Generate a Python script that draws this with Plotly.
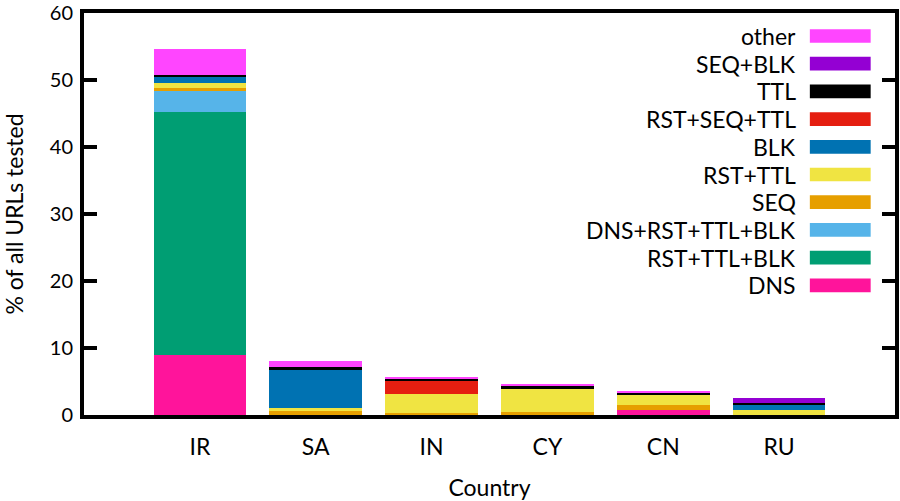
import plotly.graph_objects as go

# 国別の内訳 (% of all URLs tested)
countries = ['IR', 'SA', 'IN', 'CY', 'CN', 'RU']

# stack order bottom -> top
series_names = ['DNS', 'RST+TTL+BLK', 'DNS+RST+TTL+BLK', 'SEQ', 'RST+TTL',
                'BLK', 'RST+SEQ+TTL', 'TTL', 'SEQ+BLK', 'other']
series_colors = ['#ff149b', '#009e73', '#56b4e9', '#e69f00', '#f0e442',
                 '#0072b2', '#e51e10', '#000000', '#9400d3', '#ff45ff']

dns = [8.95, 0, 0, 0, 0.82, 0]
rst_ttl_blk = [36.3, 0, 0, 0, 0, 0]
dns_rst_ttl_blk = [3.1, 0, 0, 0, 0, 0]
seq = [0.5, 0.6, 0.35, 0.52, 0.6, 0]
rst_ttl = [0.75, 0.45, 2.82, 3.37, 1.58, 0.82]
blk = [0.95, 5.65, 0, 0, 0, 0.6]
rst_seq_ttl = [0, 0, 1.93, 0, 0, 0]
ttl = [0.15, 0.5, 0.3, 0.55, 0.35, 0.3]
seq_blk = [0, 0, 0, 0, 0, 0.89]
other = [3.95, 0.85, 0.3, 0.15, 0.15, 0]

series_values = [dns, rst_ttl_blk, dns_rst_ttl_blk, seq, rst_ttl,
                 blk, rst_seq_ttl, ttl, seq_blk, other]

y_ticks = [0, 10, 20, 30, 40, 50, 60]

FONT = 'Lato'
FS = 23

fig = go.Figure()
for name, color, vals in zip(series_names, series_colors, series_values):
    fig.add_trace(go.Bar(x=countries, y=vals, name=name,
                         marker=dict(color=color, line=dict(width=0)),
                         showlegend=False))

# 凡例 (右寄せテキスト + 右側に色見本)
ROW0 = 36
ROW_STEP = 27.7
PLOT_TOP, PLOT_BOTTOM = 13, 415
for i, (name, color) in enumerate(zip(series_names[::-1], series_colors[::-1])):
    ypx = ROW0 + ROW_STEP * i
    yp = (PLOT_BOTTOM - ypx) / (PLOT_BOTTOM - PLOT_TOP)
    fig.add_annotation(x=0.880, y=yp, xref='paper', yref='paper', text=name,
                       showarrow=False, xanchor='right', yanchor='middle',
                       font=dict(family=FONT, size=FS, color='black'))
    fig.add_shape(type='rect', xref='paper', yref='paper',
                  x0=0.895, x1=0.970, y0=yp - 0.017, y1=yp + 0.017,
                  fillcolor=color, line=dict(width=0))

fig.update_layout(
    barmode='stack',
    bargap=0.2,
    width=900, height=501,
    margin=dict(l=84, r=5, t=13, b=86, autoexpand=False),
    plot_bgcolor='white', paper_bgcolor='white',
    font=dict(family=FONT, size=FS, color='black'),
    xaxis=dict(type='category', range=[-1, 6], showline=True, linewidth=4,
               linecolor='black', mirror=True, ticks='', showgrid=False,
               automargin=False, ticklabelstandoff=8,
               title=dict(text='Country', standoff=22, font=dict(size=FS))),
    yaxis=dict(range=[0, 60], tickvals=y_ticks, showline=True, linewidth=4,
               linecolor='black', mirror='ticks', ticks='inside', ticklen=13,
               tickwidth=4, tickcolor='black', showgrid=False, zeroline=False,
               automargin=False, ticklabelstandoff=3, ticklabeloverflow='allow',
               tickfont=dict(size=20),
               title=dict(text='% of all URLs tested', standoff=31, font=dict(size=FS))),
)

fig.write_html("out.html", config={'displayModeBar': False},
               post_script="document.body.style.margin = '0';")
